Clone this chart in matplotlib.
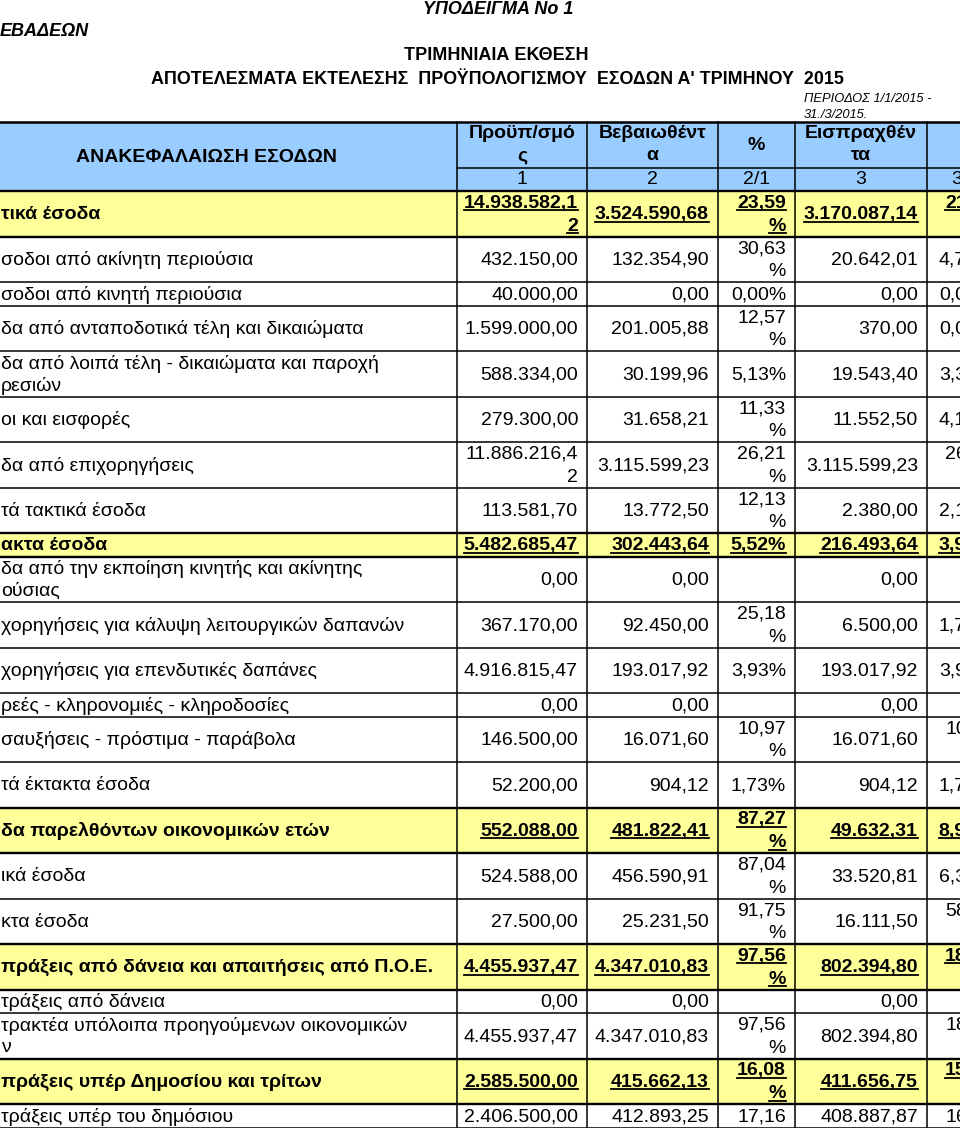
import matplotlib
matplotlib.use("Agg")
import matplotlib.pyplot as plt
from matplotlib.patches import Rectangle

plt.rcParams['font.family'] = ['Liberation Sans', 'DejaVu Sans']

# --- data -------------------------------------------------------------
etiketes = [
    "τικά έσοδα",
    "σοδοι από ακίνητη περιούσια",
    "σοδοι από κινητή περιούσια",
    "δα από ανταποδοτικά τέλη και δικαιώματα",
    "δα από λοιπά τέλη - δικαιώματα και παροχή\nρεσιών",
    "οι και εισφορές",
    "δα από επιχορηγήσεις",
    "τά τακτικά έσοδα",
    "ακτα έσοδα",
    "δα από την εκποίηση κινητής και ακίνητης\nούσιας",
    "χορηγήσεις για κάλυψη λειτουργικών δαπανών",
    "χορηγήσεις για επενδυτικές δαπάνες",
    "ρεές - κληρονομιές - κληροδοσίες",
    "σαυξήσεις - πρόστιμα - παράβολα",
    "τά έκτακτα έσοδα",
    "δα παρελθόντων οικονομικών ετών",
    "ικά έσοδα",
    "κτα έσοδα",
    "πράξεις από δάνεια και απαιτήσεις από Π.Ο.Ε.",
    "τράξεις από δάνεια",
    "τρακτέα υπόλοιπα προηγούμενων οικονομικών\nν",
    "πράξεις υπέρ Δημοσίου και τρίτων",
    "τράξεις υπέρ του δημόσιου",
]
proypologismos = [
    "14.938.582,12", "432.150,00", "40.000,00", "1.599.000,00", "588.334,00",
    "279.300,00", "11.886.216,42", "113.581,70", "5.482.685,47", "0,00",
    "367.170,00", "4.916.815,47", "0,00", "146.500,00", "52.200,00",
    "552.088,00", "524.588,00", "27.500,00", "4.455.937,47", "0,00",
    "4.455.937,47", "2.585.500,00", "2.406.500,00",
]
vevaiothenta = [
    "3.524.590,68", "132.354,90", "0,00", "201.005,88", "30.199,96",
    "31.658,21", "3.115.599,23", "13.772,50", "302.443,64", "0,00",
    "92.450,00", "193.017,92", "0,00", "16.071,60", "904,12",
    "481.822,41", "456.590,91", "25.231,50", "4.347.010,83", "0,00",
    "4.347.010,83", "415.662,13", "412.893,25",
]
pososto = [
    "23,59%", "30,63%", "0,00%", "12,57%", "5,13%",
    "11,33%", "26,21%", "12,13%", "5,52%", "",
    "25,18%", "3,93%", "", "10,97%", "1,73%",
    "87,27%", "87,04%", "91,75%", "97,56%", "",
    "97,56%", "16,08%", "17,16",
]
eispraxthenta = [
    "3.170.087,14", "20.642,01", "0,00", "370,00", "19.543,40",
    "11.552,50", "3.115.599,23", "2.380,00", "216.493,64", "0,00",
    "6.500,00", "193.017,92", "0,00", "16.071,60", "904,12",
    "49.632,31", "33.520,81", "16.111,50", "802.394,80", "0,00",
    "802.394,80", "411.656,75", "408.887,87",
]
pososto2 = [
    "21,22%", "4,78%", "0,00%", "0,02%", "3,32%",
    "4,14%", "26,21%", "2,10%", "3,95%", "",
    "1,77%", "3,93%", "", "10,97%", "1,73%",
    "8,99%", "6,39%", "58,59%", "18,01%", "",
    "18,01%", "15,92%", "16,99",
]
synola = [0, 8, 15, 18, 21]          # yellow summary rows
kefalides = ["Προϋπ/σμό\nς", "Βεβαιωθέντ\nα", "%", "Εισπραχθέν\nτα", ""]
arithmoi = ["1", "2", "2/1", "3", "3/2"]

# --- layout -----------------------------------------------------------
W, H = 960, 1128
grammes = [2, 2, 1, 2, 2, 2, 2, 2, 1, 2, 2, 2, 1, 2, 2, 2, 2, 2, 2, 1, 2, 2, 1]
h1, h2 = 23.5, 45.5
stiles = [-10, 457, 587, 718, 795, 927, 1003]
max_platos = [121, 121, 60, 121, 60]     # text width that still fits in one line
KITRINO = '#FFFF99'
MPLE = '#99CCFF'
FS = 14

fig = plt.figure(figsize=(W / 100, H / 100), dpi=100)
ax = fig.add_axes([0, 0, 1, 1])
ax.set_xlim(0, W)
ax.set_ylim(H, 0)
ax.axis('off')
renderer = fig.canvas.get_renderer()


def platos(t):
    return t.get_window_extent(renderer).width


def keimeno(x, y, s, **kw):
    return ax.text(x, y, s, clip_on=True, **kw)


def spasimo(s, maxw, bold):
    # break a cell value that does not fit the column (like the spreadsheet)
    t = ax.text(0, 0, s, fontsize=FS, fontweight='bold' if bold else 'normal')
    if platos(t) <= maxw:
        t.remove()
        return [s]
    for k in range(len(s) - 1, 0, -1):
        t.set_text(s[:k])
        if platos(t) <= maxw:
            t.remove()
            return [s[:k], s[k:]]
    t.remove()
    return [s]


def ypogrammisi(t):
    bb = t.get_window_extent(renderer)
    yy = H - bb.y0 - 1.5
    ax.plot([bb.x0, bb.x1], [yy, yy], color='black', lw=1.3, clip_on=True)


# titles
keimeno(498, 10, "ΥΠΟΔΕΙΓΜΑ Νο 1", fontsize=13, fontweight='bold', style='italic',
        ha='center', va='center')
keimeno(0, 31, "ΕΒΑΔΕΩΝ", fontsize=13, fontweight='bold', style='italic',
        ha='left', va='center')
keimeno(496, 55, "ΤΡΙΜΗΝΙΑΙΑ ΕΚΘΕΣΗ", fontsize=13, fontweight='bold',
        ha='center', va='center')
keimeno(497, 79, "ΑΠΟΤΕΛΕΣΜΑΤΑ ΕΚΤΕΛΕΣΗΣ  ΠΡΟΫΠΟΛΟΓΙΣΜΟΥ  ΕΣΟΔΩΝ Α' ΤΡΙΜΗΝΟΥ  2015",
        fontsize=12.9, fontweight='bold', ha='center', va='center')
keimeno(804, 99, "ΠΕΡΙΟΔΟΣ 1/1/2015 -", fontsize=9.3, style='italic',
        ha='left', va='center')
keimeno(804, 115, "31./3/2015.", fontsize=9.3, style='italic', ha='left', va='center')

# header
y0, ymid, y1 = 122, 168, 191
ax.add_patch(Rectangle((stiles[0], y0), stiles[-1] - stiles[0], y1 - y0,
                       facecolor=MPLE, edgecolor='none'))
keimeno(206, 157, "ΑΝΑΚΕΦΑΛΑΙΩΣΗ ΕΣΟΔΩΝ", fontsize=14, fontweight='bold',
        ha='center', va='center')
for j in range(5):
    xc = (stiles[j + 1] + stiles[j + 2]) / 2
    lines = kefalides[j].split('\n')
    if len(lines) == 2:
        keimeno(xc, 133, lines[0], fontsize=14, fontweight='bold', ha='center', va='center')
        keimeno(xc, 156, lines[1], fontsize=14, fontweight='bold', ha='center', va='center')
    elif lines[0]:
        keimeno(xc, 145, lines[0], fontsize=14, fontweight='bold', ha='center', va='center')
    keimeno(xc, 180, arithmoi[j], fontsize=14, ha='center', va='center')
ax.plot([stiles[1], stiles[-1]], [ymid, ymid], color='black', lw=1.1)

# body rows
oria = [y1]
for n in grammes:
    oria.append(oria[-1] + (h2 if n == 2 else h1))

stiles_times = [proypologismos, vevaiothenta, pososto, eispraxthenta, pososto2]
for i, lab in enumerate(etiketes):
    top, bot = oria[i], oria[i + 1]
    yc = (top + bot) / 2 + 1
    bold = i in synola
    fw = 'bold' if bold else 'normal'
    if bold:
        ax.add_patch(Rectangle((stiles[0], top), stiles[-1] - stiles[0], bot - top,
                               facecolor=KITRINO, edgecolor='none'))
    lab_lines = lab.split('\n')
    if len(lab_lines) == 2:
        keimeno(1, yc - 11, lab_lines[0], fontsize=FS, fontweight=fw, ha='left', va='center')
        keimeno(1, yc + 11, lab_lines[1], fontsize=FS, fontweight=fw, ha='left', va='center')
    else:
        keimeno(1, yc, lab, fontsize=FS, fontweight=fw, ha='left', va='center')
    for j, col in enumerate(stiles_times):
        s = col[i]
        if not s:
            continue
        xr = stiles[j + 2] - 9
        parts = spasimo(s, max_platos[j], bold)
        ys = [yc] if len(parts) == 1 else [yc - 11.5, yc + 11.5]
        for p, yy in zip(parts, ys):
            t = keimeno(xr, yy, p, fontsize=FS, fontweight=fw, ha='right', va='center')
            if bold:
                ypogrammisi(t)

# grid lines
for i, y in enumerate(oria):
    thick = (i in synola) or (i - 1 in synola) or i == 0
    ax.plot([stiles[0], stiles[-1]], [y, y], color='black', lw=1.7 if thick else 1.1)
ax.plot([stiles[0], stiles[-1]], [y0, y0], color='black', lw=1.8)
for x in stiles[1:-1]:
    ax.plot([x, x], [y0, oria[-1]], color='black', lw=1.1)

fig.savefig("out.png", dpi=100)
